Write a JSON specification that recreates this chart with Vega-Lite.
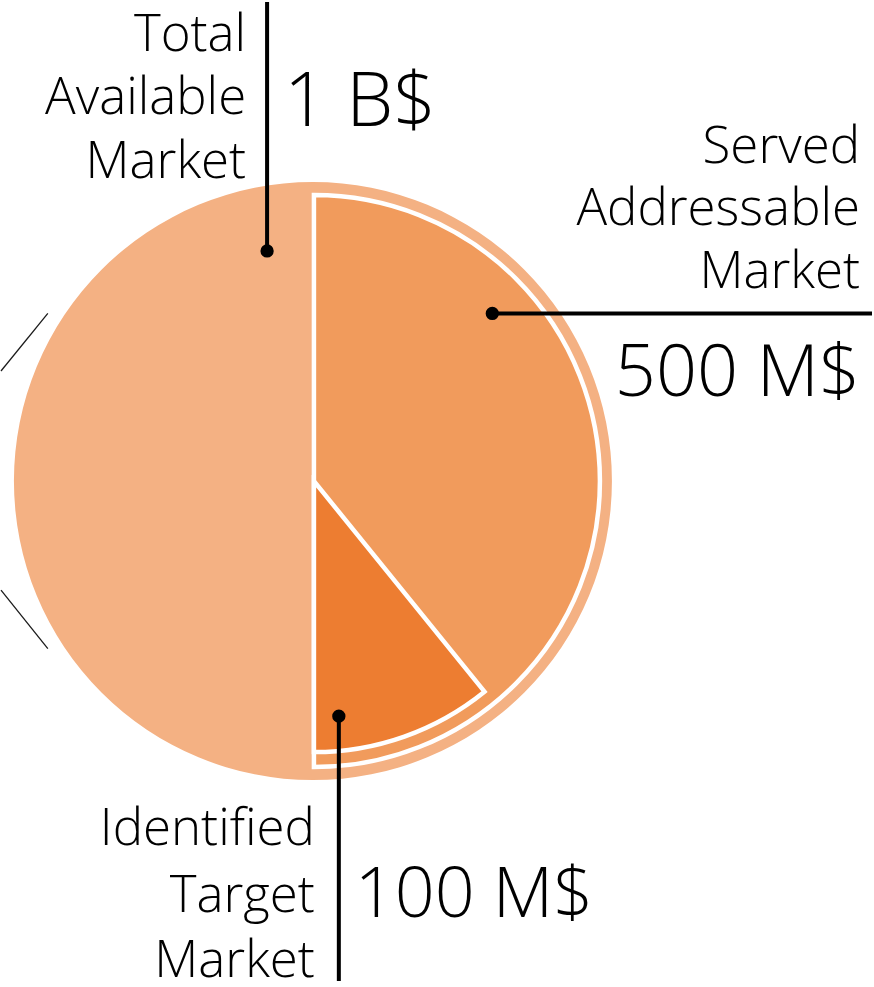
{
  "$schema": "https://vega.github.io/schema/vega-lite/v6.json",
  "width": 874,
  "height": 987,
  "padding": 0,
  "autosize": {"type": "fit", "contains": "padding"},
  "background": "white",
  "config": {"view": {"stroke": null}},
  "datasets": {
    "arcs": [
      {"segment": "TAM", "value_musd": 1000, "cx": 313, "cy": 483, "theta_start": 0, "theta_end": 360, "r": 299},
      {"segment": "SAM", "value_musd": 500, "cx": 314, "cy": 483, "theta_start": 0, "theta_end": 180, "r": 286},
      {"segment": "SOM", "value_musd": 100, "cx": 314, "cy": 483, "theta_start": 141, "theta_end": 180, "r": 271}
    ],
    "leaders": [
      {"segment": "TAM", "ax": 267, "ay": 251, "ex": 267, "ey": 0},
      {"segment": "SAM", "ax": 493, "ay": 314, "ex": 874, "ey": 314},
      {"segment": "SOM", "ax": 339, "ay": 720, "ex": 339, "ey": 987}
    ],
    "decor": [
      {"x": 0, "y": 372, "x2": 47, "y2": 314},
      {"x": 0, "y": 593, "x2": 47, "y2": 652}
    ],
    "labels": [
      {"segment": "TAM", "kind": "name", "text": "Total", "x": 246, "y": 49},
      {"segment": "TAM", "kind": "name", "text": "Available", "x": 246, "y": 113},
      {"segment": "TAM", "kind": "name", "text": "Market", "x": 246, "y": 177},
      {"segment": "SAM", "kind": "name", "text": "Served", "x": 862, "y": 162},
      {"segment": "SAM", "kind": "name", "text": "Addressable", "x": 862, "y": 225},
      {"segment": "SAM", "kind": "name", "text": "Market", "x": 862, "y": 288},
      {"segment": "SOM", "kind": "name", "text": "Identified", "x": 315, "y": 850},
      {"segment": "SOM", "kind": "name", "text": "Target", "x": 315, "y": 917},
      {"segment": "SOM", "kind": "name", "text": "Market", "x": 315, "y": 983},
      {"segment": "TAM", "kind": "valueL", "text": "1 B$", "x": 284, "y": 125, "fs": 75},
      {"segment": "SAM", "kind": "valueR", "text": "500 M$", "x": 862, "y": 397, "fs": 72},
      {"segment": "SOM", "kind": "valueL", "text": "100 M$", "x": 355, "y": 922, "fs": 70}
    ]
  },
  "layer": [
    {
      "data": {"name": "arcs"},
      "transform": [{"filter": "datum.segment === 'TAM'"}],
      "mark": {"type": "arc", "stroke": null},
      "encoding": {
        "x": {"field": "cx", "type": "quantitative", "scale": {"domain": [0, 874], "nice": false, "zero": false}, "axis": null},
        "y": {"field": "cy", "type": "quantitative", "scale": {"domain": [0, 987], "nice": false, "zero": false, "reverse": true}, "axis": null},
        "theta": {"field": "theta_start", "type": "quantitative", "scale": {"type": "linear", "domain": [0, 360], "range": [0, 6.283185307], "zero": false, "nice": false}},
        "theta2": {"field": "theta_end"},
        "radius": {"field": "r", "type": "quantitative", "scale": {"type": "linear", "domain": [0, 874], "range": [0, 874], "zero": true, "nice": false}},
        "color": {"field": "segment", "type": "nominal", "scale": {"domain": ["TAM", "SAM", "SOM"], "range": ["#F4B183", "#F19B5C", "#ED7D31"]}, "legend": null}
      }
    },
    {
      "data": {"name": "arcs"},
      "transform": [{"filter": "datum.segment !== 'TAM'"}],
      "mark": {"type": "arc", "stroke": "white", "strokeWidth": 4.5, "strokeJoin": "miter"},
      "encoding": {
        "x": {"field": "cx", "type": "quantitative", "scale": {"domain": [0, 874], "nice": false, "zero": false}, "axis": null},
        "y": {"field": "cy", "type": "quantitative", "scale": {"domain": [0, 987], "nice": false, "zero": false, "reverse": true}, "axis": null},
        "theta": {"field": "theta_start", "type": "quantitative", "scale": {"type": "linear", "domain": [0, 360], "range": [0, 6.283185307], "zero": false, "nice": false}},
        "theta2": {"field": "theta_end"},
        "radius": {"field": "r", "type": "quantitative", "scale": {"type": "linear", "domain": [0, 874], "range": [0, 874], "zero": true, "nice": false}},
        "color": {"field": "segment", "type": "nominal", "scale": {"domain": ["TAM", "SAM", "SOM"], "range": ["#F4B183", "#F19B5C", "#ED7D31"]}, "legend": null}
      }
    },
    {
      "data": {"name": "decor"},
      "mark": {"type": "rule", "color": "#1a1a1a", "strokeWidth": 1.3},
      "encoding": {
        "x": {"field": "x", "type": "quantitative", "scale": {"domain": [0, 874], "nice": false, "zero": false}, "axis": null},
        "y": {"field": "y", "type": "quantitative", "scale": {"domain": [0, 987], "nice": false, "zero": false, "reverse": true}, "axis": null},
        "x2": {"field": "x2"},
        "y2": {"field": "y2"}
      }
    },
    {
      "data": {"name": "leaders"},
      "mark": {"type": "rule", "color": "black", "strokeWidth": 4},
      "encoding": {
        "x": {"field": "ax", "type": "quantitative", "scale": {"domain": [0, 874], "nice": false, "zero": false}, "axis": null},
        "y": {"field": "ay", "type": "quantitative", "scale": {"domain": [0, 987], "nice": false, "zero": false, "reverse": true}, "axis": null},
        "x2": {"field": "ex"},
        "y2": {"field": "ey"}
      }
    },
    {
      "data": {"name": "leaders"},
      "mark": {"type": "point", "shape": "circle", "filled": true, "color": "black", "opacity": 1, "size": 177},
      "encoding": {
        "x": {"field": "ax", "type": "quantitative", "scale": {"domain": [0, 874], "nice": false, "zero": false}, "axis": null},
        "y": {"field": "ay", "type": "quantitative", "scale": {"domain": [0, 987], "nice": false, "zero": false, "reverse": true}, "axis": null}
      }
    },
    {
      "data": {"name": "labels"},
      "transform": [{"filter": "datum.kind === 'name'"}],
      "mark": {"type": "text", "align": "right", "baseline": "alphabetic", "font": "Open Sans", "fontSize": 51, "fontWeight": 300, "color": "black"},
      "encoding": {
        "x": {"field": "x", "type": "quantitative", "scale": {"domain": [0, 874], "nice": false, "zero": false}, "axis": null},
        "y": {"field": "y", "type": "quantitative", "scale": {"domain": [0, 987], "nice": false, "zero": false, "reverse": true}, "axis": null},
        "text": {"field": "text"}
      }
    },
    {
      "data": {"name": "labels"},
      "transform": [{"filter": "datum.kind === 'valueL'"}],
      "mark": {"type": "text", "align": "left", "baseline": "alphabetic", "font": "Open Sans", "fontWeight": 300, "color": "black"},
      "encoding": {
        "x": {"field": "x", "type": "quantitative", "scale": {"domain": [0, 874], "nice": false, "zero": false}, "axis": null},
        "y": {"field": "y", "type": "quantitative", "scale": {"domain": [0, 987], "nice": false, "zero": false, "reverse": true}, "axis": null},
        "size": {"field": "fs", "type": "quantitative", "scale": null},
        "text": {"field": "text"}
      }
    },
    {
      "data": {"name": "labels"},
      "transform": [{"filter": "datum.kind === 'valueR'"}],
      "mark": {"type": "text", "align": "right", "baseline": "alphabetic", "font": "Open Sans", "fontWeight": 300, "color": "black"},
      "encoding": {
        "x": {"field": "x", "type": "quantitative", "scale": {"domain": [0, 874], "nice": false, "zero": false}, "axis": null},
        "y": {"field": "y", "type": "quantitative", "scale": {"domain": [0, 987], "nice": false, "zero": false, "reverse": true}, "axis": null},
        "size": {"field": "fs", "type": "quantitative", "scale": null},
        "text": {"field": "text"}
      }
    }
  ]
}
